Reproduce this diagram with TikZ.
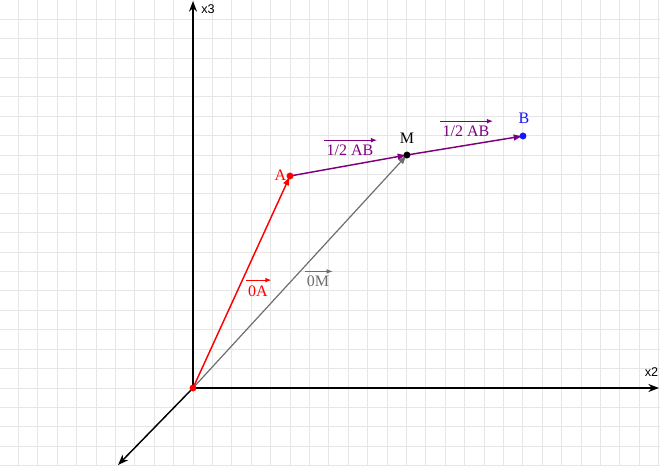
\documentclass[tikz,border=0pt]{standalone}
\usepackage{fontspec}
\setmainfont{Liberation Serif}
\newfontfamily\axfont{Liberation Sans}
\usetikzlibrary{arrows.meta}
\definecolor{gridc}{RGB}{230,230,230}
\definecolor{vpurple}{RGB}{127,0,127}
\definecolor{vgray}{RGB}{110,110,110}
\definecolor{vred}{RGB}{255,0,0}
\definecolor{vblue}{RGB}{20,20,255}
\begin{document}
\begin{tikzpicture}[x=0.75pt,y=-0.75pt,
  gridline/.style={draw=gridc,line width=0.75pt},
  axis/.style={draw=black,line width=1.1pt,-{Stealth[length=8pt,width=6pt]}},
  vec/.style={line width=1.1pt,-{Latex[length=7pt,width=5pt]}},
  overarr/.style={line width=0.7pt,-{Latex[length=4.5pt,width=3.5pt]}},
  dot/.style={circle,inner sep=0pt,minimum size=5.2pt},
  lbl/.style={inner sep=0pt,anchor=base,font=\fontsize{12}{14}\selectfont},
  axlbl/.style={inner sep=0pt,font=\axfont\fontsize{9.5}{11}\selectfont}]
\useasboundingbox (0,0) rectangle (660,466);
\clip (0,0) rectangle (660,466);
\fill[white] (0,0) rectangle (660,466);
% grid
\foreach \i in {-10,...,24} \draw[gridline] ({193+\i*19.4},0) -- ({193+\i*19.4},466);
\foreach \j in {-20,...,4} \draw[gridline] (0,{388+\j*19.4}) -- (660,{388+\j*19.4});
% axes
\coordinate (O) at (193,388);
\coordinate (X3) at (193,1);
\coordinate (X2) at (659,388);
\coordinate (X1) at (118,465);
\draw[axis] (O) -- (X3);
\draw[axis] (O) -- (X2);
\draw[axis] (O) -- (X1);
\node[axlbl] (lx3) at (208,9) {x3};
\node[axlbl] (lx2) at (651.5,372) {x2};
% points
\coordinate (pA) at (290,176);
\coordinate (pM) at (407,155);
\coordinate (pB) at (523,136);
% vectors
\draw[vec,vgray,line width=0.9pt] (O) -- (pM);
\draw[vec,vred] (O) -- (pA);
\draw[vec,vpurple] (pA) -- (pM);
\draw[vec,vpurple] (pM) -- (pB);
% dots
\node[dot,fill=vred] (O0) at (O) {};
\node[dot,fill=vred] (A) at (pA) {};
\node[dot,fill=black] (M) at (pM) {};
\node[dot,fill=vblue] (B) at (pB) {};
% point labels
\node[lbl,text=vred] (lA) at (280.5,181) {A};
\node[lbl] (lM) at (407,143.3) {M};
\node[lbl,text=vblue] (lB) at (524,124) {B};
% vector labels
\node[lbl,text=vred] (l0A) at (258,297) {0A};
\draw[overarr,vred] ([xshift=-1.5pt,yshift=4.5pt]l0A.north west) -- ([xshift=2.5pt,yshift=4.5pt]l0A.north east);
\node[lbl,text=vgray] (l0M) at (318,287) {0M};
\draw[overarr,vgray] ([xshift=-1.5pt,yshift=3.5pt]l0M.north west) -- ([xshift=2.5pt,yshift=3.5pt]l0M.north east);
\node[lbl,text=vpurple] (lh1) at (350,155.7) {1/2 AB};
\draw[overarr,vpurple] ([xshift=-1.5pt,yshift=3.5pt]lh1.north west) -- ([xshift=2.5pt,yshift=3.5pt]lh1.north east);
\node[lbl,text=vpurple] (lh2) at (466,136.7) {1/2 AB};
\draw[overarr,vpurple] ([xshift=-1.5pt,yshift=3.5pt]lh2.north west) -- ([xshift=2.5pt,yshift=3.5pt]lh2.north east);
\end{tikzpicture}
\end{document}
